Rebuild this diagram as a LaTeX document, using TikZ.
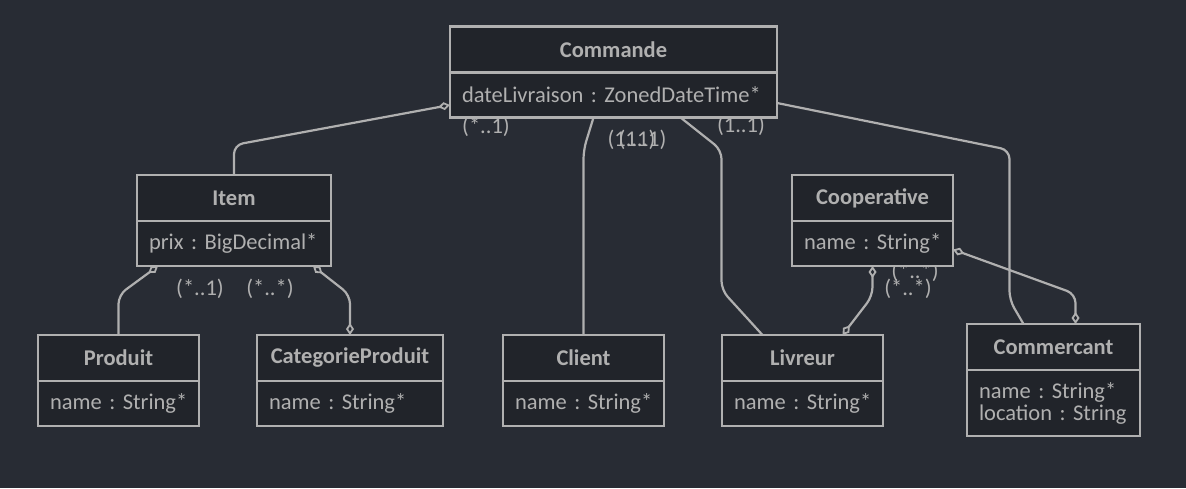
\documentclass[tikz,border=0pt]{standalone}
\usepackage{fontspec}
\setmainfont{Carlito}
\frenchspacing
\usetikzlibrary{positioning, arrows.meta}

\definecolor{bgslate}{RGB}{40,44,52}
\definecolor{boxfill}{RGB}{33,36,42}
\definecolor{umlgray}{RGB}{176,176,176}

\begin{document}
\begin{tikzpicture}
    [
        x=1pt, y=-1pt, node distance=0pt,
        cls/.style={draw=umlgray, fill=boxfill, line width=2.3pt, outer sep=0pt, text=umlgray, inner xsep=12pt, inner ysep=0pt},
        class_head/.style={cls, font=\fontsize{22.5}{24}\selectfont\bfseries, minimum height=46pt, minimum width=#1},
        class_attr/.style={cls, font=\fontsize{22.5}{22}\selectfont, minimum height=45pt, text width=#1, align=left},
        assoc/.style={draw=umlgray, line width=2.2pt, rounded corners=9pt},
        agg/.tip={Diamond[open, length=12pt, width=8pt, line width=1.8pt]},
        mult/.style={text=umlgray, font=\fontsize{22.5}{24}\selectfont, inner sep=0pt},
    ]
        \fill[bgslate] (0,0) rectangle (1186,488);
        \useasboundingbox (0,0) rectangle (1186,488);

        % multiplicities (drawn first, the boxes cover them)
        \node[mult] (m_item) at (486,127) {(*..1)};
        \node[mult] (m_client_a) at (631.5,140) {(1..1)};
        \node[mult] (m_client_b) at (642.5,140) {(1..1)};
        \node[mult] (m_livreur) at (741,126) {(1..1)};
        \node[mult] (m_produit) at (200,289) {(*..1)};
        \node[mult] (m_categorie) at (270,289) {(*..*)};
        \node[mult] (m_coop_a) at (915,272) {(*..*)};
        \node[mult] (m_coop_b) at (908,289) {(*..*)};

        % classes
        \node[class_head=327pt] (commande_head) at (613.5,49.5) {Commande};
        \node[class_attr=303pt] (commande_attr) [below=of commande_head] {dateLivraison~:~ZonedDateTime*};
        \node[class_head=194pt] (item_head) at (234,198) {Item};
        \node[class_attr=170pt] (item_attr) [below=of item_head] {prix~:~BigDecimal*};
        \node[class_head=161pt] (produit_head) at (118.5,358) {Produit};
        \node[class_attr=137pt] (produit_attr) [below=of produit_head] {name~:~String*};
        \node[class_head=186pt] (categorie_head) at (350,358) {CategorieProduit};
        \node[class_attr=162pt] (categorie_attr) [below=of categorie_head] {name~:~String*};
        \node[class_head=161pt] (client_head) at (583.5,358) {Client};
        \node[class_attr=137pt] (client_attr) [below=of client_head] {name~:~String*};
        \node[class_head=161pt] (livreur_head) at (802.5,358) {Livreur};
        \node[class_attr=137pt] (livreur_attr) [below=of livreur_head] {name~:~String*};
        \node[class_head=161pt] (coop_head) at (872.5,198) {Cooperative};
        \node[class_attr=137pt] (coop_attr) [below=of coop_head] {name~:~String*};
        \node[class_head=173pt] (commercant_head) at (1053.5,347) {Commercant};
        \node[class_attr=149pt, minimum height=66pt] (commercant_attr) [below=of commercant_head] {name~:~String*\\location~:~String};

        % connectors
        \draw[assoc, agg-] ([yshift=-10pt]commande_attr.west) -- ([yshift=30pt]item_head.north) -- (item_head.north);
        \draw[assoc] ([xshift=-20pt]commande_attr.south) -- ([yshift=185pt]client_head.north) -- (client_head.north);
        \draw[assoc] ([xshift=67pt]commande_attr.south) -- ([xshift=-81pt, yshift=185pt]livreur_head.north) -- ([xshift=-81pt, yshift=45pt]livreur_head.north) -- ([xshift=-40pt]livreur_head.north);
        \draw[assoc] ([yshift=-8pt]commande_attr.east) -- ([xshift=-44pt, yshift=174pt]commercant_head.north) -- ([xshift=-44pt, yshift=24pt]commercant_head.north) -- ([xshift=-30pt]commercant_head.north);
        \draw[assoc, agg-] ([xshift=-76pt]item_attr.south) -- ([yshift=40pt]produit_head.north) -- (produit_head.north);
        \draw[assoc, agg-agg] ([xshift=79pt]item_attr.south) -- ([yshift=40pt]categorie_head.north) -- (categorie_head.north);
        \draw[assoc, agg-agg] (coop_attr.south) -- ++(0,30) -- ([xshift=40pt]livreur_head.north);
        \draw[assoc, agg-agg] ([yshift=-6pt]coop_attr.east) -- ([xshift=22pt, yshift=30pt]commercant_head.north) -- ([xshift=22pt]commercant_head.north);
    \end{tikzpicture}
\end{document}
